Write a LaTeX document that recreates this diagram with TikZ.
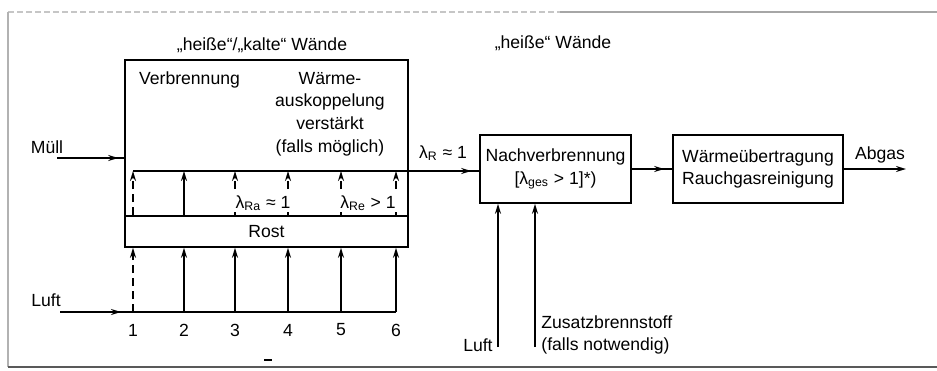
\documentclass[tikz,border=0pt]{standalone}
\usepackage{fontspec}
\setmainfont{Liberation Sans}
\usetikzlibrary{arrows.meta,decorations.markings}
\begin{document}
\begin{tikzpicture}[x=0.5pt,y=-0.5pt,
  every node/.style={font=\fontsize{8.8}{11.3}\selectfont, inner sep=0pt},
  box/.style={draw, line width=0.8pt},
  line/.style={line width=0.8pt},
  tip/.style={-{Stealth[length=5pt,width=3pt]}},
  tipat/.style={postaction={decorate}, decoration={markings, mark=at position #1 with {\arrow{Stealth[length=5pt,width=3pt]}}}},
  dsh/.style={dash pattern=on 4pt off 2.5pt},
  lbl/.style={fill=white, inner sep=0.6pt}]
\useasboundingbox (0,0) rectangle (937,370);
% outer frame
\draw[gray!45, line width=0.6pt, dash pattern=on 3pt off 1.5pt] (8,12) -- (560,12);
\draw[gray!70, line width=0.7pt] (560,12) -- (937,12);
\draw[gray!60, line width=0.6pt] (8,12) -- (8,367);
\draw[gray!70!black, line width=1pt] (8,367) -- (937,367);
\draw[line width=0.8pt] (264,360) -- (272,360);
% boxes
\node[box, minimum width=141.5pt, minimum height=93.5pt] (main) at (266.5,153.5) {};
\node[box, minimum width=141.5pt, minimum height=15.5pt] (rost) at (266.5,231.5) {Rost};
\node[box, minimum width=75.5pt, minimum height=34pt, align=center] (nach) at (555.5,169) {Nachverbrennung\\{[}λ\textsubscript{ges} > 1{]}*)};
\node[box, minimum width=85pt, minimum height=34pt, align=center] (waerme) at (758,169) {Wärmeübertragung\\Rauchgasreinigung};
% texts
\node (t1) at (262,45) {„heiße“/„kalte“ Wände};
\node (t2) at (553,43) {„heiße“ Wände};
\node (verb) at (189.5,80) {Verbrennung};
\node[align=center] (wa) at (330,114) {Wärme-\\auskoppelung\\verstärkt\\(falls möglich)};
\node (muell) at (47,147) {Müll};
\node (luft1) at (46,300) {Luft};
\node (abgas) at (880,155) {Abgas};
\node[anchor=east] (luft2) at (493,345) {Luft};
\node[anchor=west, align=left] (zus) at (541,335) {Zusatzbrennstoff\\(falls notwendig)};
\node (lR) at (443,153) {λ\textsubscript{R} ≈ 1};
% columns
\foreach \i/\x in {1/133,2/184,3/235,4/288,5/341,6/396} {
  \coordinate (top\i) at (\x,171);
  \coordinate (bot\i) at (\x,312);
  \node (n\i) at (\x,330) {\i};
}
% upper arrows
\draw[line, tip, dsh] (rost.north -| top1) -- (top1);
\draw[line, tip] (rost.north -| top2) -- (top2);
\foreach \i in {3,4,5,6} {\draw[line, tip, dsh] (rost.north -| top\i) -- (top\i);}
\node[lbl] (lRa) at (263,203) {λ\textsubscript{Ra} ≈ 1};
\node[lbl] (lRe) at (368,203) {λ\textsubscript{Re} > 1};
% lower arrows
\draw[line, tip, dsh] (bot1) -- (rost.south -| bot1);
\foreach \i in {2,...,6} {\draw[line, tip] (bot\i) -- (rost.south -| bot\i);}
% flue gas line
\draw[line, tipat=-4pt] (top1) -- (nach.west |- top1);
% Luft line
\coordinate (luftin) at (60,312);
\draw[line, tipat=-6pt] (luftin) -- (bot1);
\draw[line] (bot1) -- (bot6);
% Muell
\coordinate (muellin) at (57,158);
\draw[line, tipat=-3pt] (muellin) -- (main.west |- muellin);
% between boxes
\draw[line, tipat=-4pt] (nach.east) -- (waerme.west);
\coordinate (abgasout) at (906,169);
\draw[line, tip] (waerme.east) -- (abgasout);
% air and fuel to Nachverbrennung
\coordinate (a1) at (498,347);
\coordinate (a2) at (535,347);
\draw[line, tip] (a1) -- (nach.south -| a1);
\draw[line, tip] (a2) -- (nach.south -| a2);
\end{tikzpicture}
\end{document}
